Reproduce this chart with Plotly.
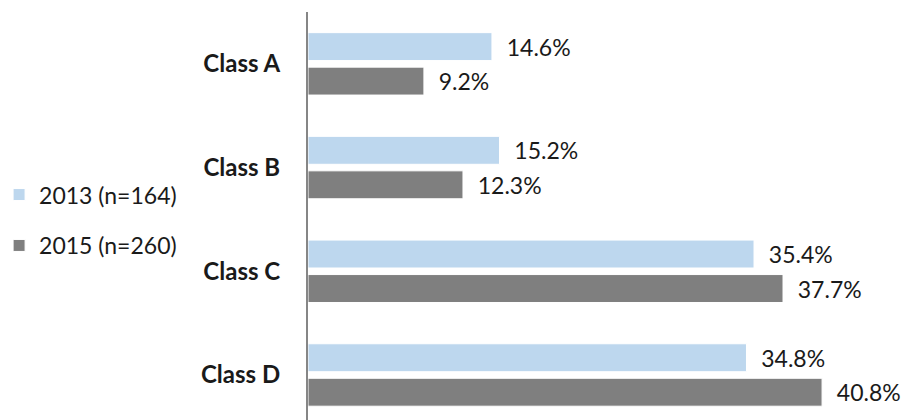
import plotly.graph_objects as go

categories = ["Class A", "Class B", "Class C", "Class D"]
series_names = ["2013 (n=164)", "2015 (n=260)"]
values_2013 = [14.6, 15.2, 35.4, 34.8]
values_2015 = [9.2, 12.3, 37.7, 40.8]
colors = ["#BDD7EE", "#7F7F7F"]

FONT = "Lato"
pad = "\u00a0\u00a0"

fig = go.Figure()
for i, (name, vals) in enumerate(zip(series_names, [values_2013, values_2015])):
    fig.add_trace(go.Bar(
        y=categories, x=vals, name=name, orientation="h",
        marker=dict(color=colors[i], line=dict(color="white", width=1)),
        text=[f"{pad}{v:.1f}%" for v in vals],
        textposition="outside", cliponaxis=False, constraintext="none",
        textfont=dict(family=FONT, size=23, color="#1a1a1a"),
        legendgroup=f"g{i}",
    ))

fig.update_layout(
    width=909, height=420,
    margin=dict(l=300, r=8, t=4, b=8, autoexpand=False),
    paper_bgcolor="white", plot_bgcolor="white",
    barmode="group", bargap=0.335, bargroupgap=0.19,
    font=dict(family=FONT, size=23, color="#1a1a1a"),
    legend=dict(xref="paper", yref="container", x=-0.514, y=0.495,
                yanchor="middle", xanchor="left",
                font=dict(family=FONT, size=23, color="#1a1a1a"),
                tracegroupgap=18, traceorder="grouped", itemwidth=30,
                bgcolor="rgba(0,0,0,0)"),
)
fig.update_xaxes(range=[0, 47.7], visible=False, showgrid=False, zeroline=False)
fig.update_yaxes(range=[3.434, -0.5], showline=True, linecolor="#868686", linewidth=2,
                 showgrid=False, ticks="", ticklabelstandoff=21,
                 tickfont=dict(family=FONT, size=24, color="#1a1a1a", weight="bold"))

fig.write_html("out.html")
